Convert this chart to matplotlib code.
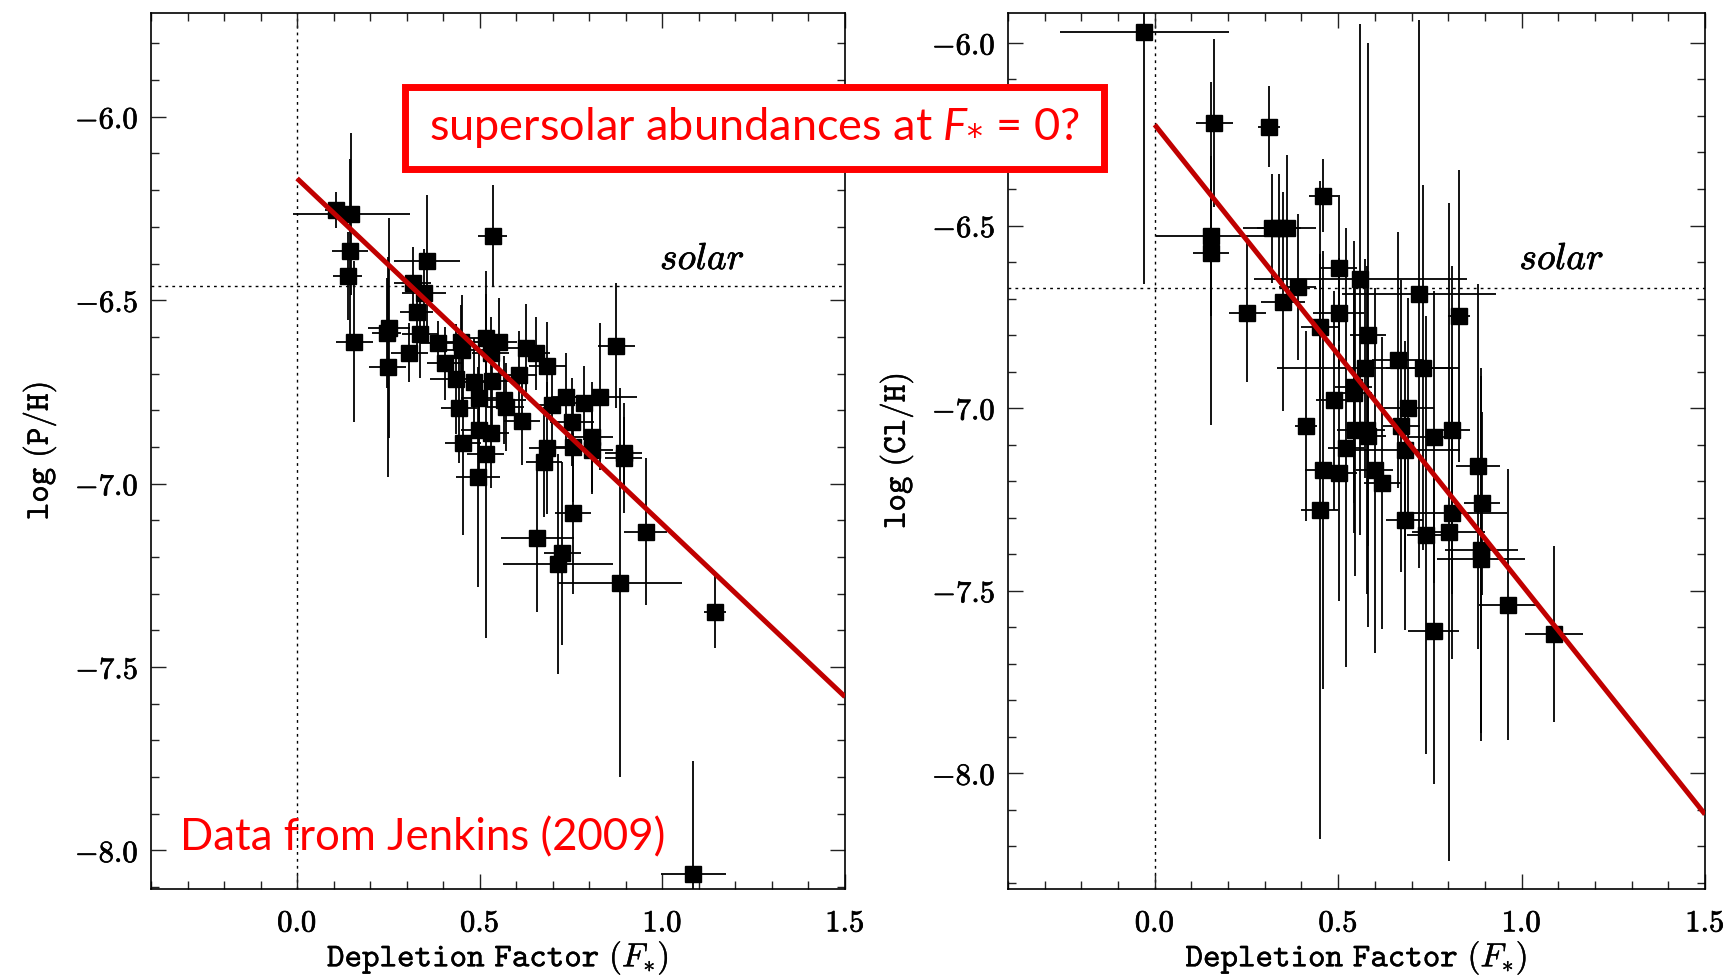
import matplotlib
matplotlib.use("Agg")
import matplotlib.pyplot as plt
from matplotlib.patches import Rectangle
from matplotlib.ticker import MultipleLocator, FuncFormatter
import matplotlib.patheffects as pe
import numpy as np

plt.rcParams['mathtext.fontset'] = 'cm'
plt.rcParams['mathtext.it'] = 'Lato:italic'

# ---------------- data ----------------
P_fstar = [0.106, 0.148, 0.145, 0.138, 0.157, 0.355, 0.536, 0.316, 0.348, 0.327,
           0.252, 0.245, 0.336, 0.307, 0.248, 0.387, 0.405, 0.434, 0.448, 0.452,
           0.443, 0.484, 0.516, 0.553, 0.530, 0.498, 0.566, 0.607, 0.626, 0.653,
           0.685, 0.735, 0.785, 0.830, 0.874, 0.571, 0.616, 0.698, 0.498, 0.530,
           0.454, 0.516, 0.496, 0.685, 0.676, 0.753, 0.755, 0.806, 0.806, 0.894,
           0.894, 0.755, 0.657, 0.726, 0.715, 0.883, 0.954, 1.145, 1.085, 0.534]
P_logH = [-6.254, -6.265, -6.365, -6.434, -6.613, -6.393, -6.325, -6.454, -6.481, -6.531,
          -6.576, -6.590, -6.592, -6.643, -6.681, -6.616, -6.672, -6.715, -6.613, -6.635,
          -6.793, -6.722, -6.604, -6.613, -6.645, -6.767, -6.772, -6.703, -6.631, -6.645,
          -6.680, -6.763, -6.780, -6.763, -6.624, -6.790, -6.830, -6.785, -6.854, -6.863,
          -6.890, -6.920, -6.981, -6.903, -6.940, -6.831, -6.899, -6.872, -6.908, -6.917,
          -6.931, -7.081, -7.149, -7.190, -7.219, -7.270, -7.131, -7.349, -8.065, -6.720]
P_xerr = [0.03, 0.16, 0.05, 0.04, 0.05, 0.09, 0.04, 0.05, 0.06, 0.045,
          0.057, 0.04, 0.05, 0.05, 0.05, 0.05, 0.05, 0.07, 0.05, 0.07,
          0.05, 0.05, 0.05, 0.05, 0.05, 0.05, 0.06, 0.05, 0.05, 0.04,
          0.05, 0.04, 0.05, 0.10, 0.05, 0.05, 0.05, 0.05, 0.05, 0.05,
          0.05, 0.05, 0.06, 0.05, 0.05, 0.06, 0.05, 0.06, 0.06, 0.05,
          0.05, 0.05, 0.10, 0.05, 0.15, 0.17, 0.06, 0.03, 0.09, 0.05]
P_yerr = [0.05, 0.22, 0.25, 0.12, 0.22, 0.18, 0.14, 0.10, 0.12, 0.10,
          0.30, 0.15, 0.12, 0.08, 0.30, 0.06, 0.10, 0.15, 0.10, 0.15,
          0.15, 0.12, 0.12, 0.12, 0.10, 0.15, 0.12, 0.12, 0.12, 0.10,
          0.12, 0.12, 0.10, 0.20, 0.17, 0.12, 0.12, 0.12, 0.15, 0.15,
          0.25, 0.50, 0.30, 0.18, 0.15, 0.12, 0.15, 0.15, 0.12, 0.10,
          0.15, 0.22, 0.20, 0.25, 0.30, 0.53, 0.20, 0.10, 0.31, 0.12]

Cl_fstar = [-0.028, 0.162, 0.311, 0.460, 0.153, 0.153, 0.319, 0.340, 0.360, 0.252,
            0.350, 0.390, 0.501, 0.560, 0.501, 0.450, 0.581, 0.573, 0.542, 0.542,
            0.490, 0.412, 0.546, 0.578, 0.581, 0.521, 0.460, 0.501, 0.600, 0.620,
            0.721, 0.830, 0.663, 0.730, 0.690, 0.672, 0.810, 0.760, 0.681, 0.880,
            0.450, 0.681, 0.739, 0.801, 0.810, 0.892, 0.890, 0.890, 0.760, 0.964,
            1.088]
Cl_logH = [-5.969, -6.218, -6.229, -6.419, -6.529, -6.576, -6.508, -6.508, -6.508, -6.739,
           -6.709, -6.669, -6.617, -6.647, -6.739, -6.779, -6.800, -6.891, -6.942, -6.960,
           -6.978, -7.049, -7.060, -7.060, -7.077, -7.108, -7.170, -7.177, -7.170, -7.206,
           -6.688, -6.747, -6.868, -6.889, -6.999, -7.049, -7.060, -7.079, -7.115, -7.159,
           -7.279, -7.307, -7.348, -7.339, -7.288, -7.261, -7.389, -7.412, -7.610, -7.538,
           -7.619]
Cl_xerr = [0.23, 0.05, 0.03, 0.04, 0.15, 0.05, 0.04, 0.10, 0.04, 0.05,
           0.06, 0.05, 0.05, 0.29, 0.07, 0.05, 0.05, 0.24, 0.05, 0.05,
           0.05, 0.03, 0.05, 0.05, 0.05, 0.05, 0.05, 0.05, 0.05, 0.05,
           0.21, 0.03, 0.07, 0.10, 0.07, 0.05, 0.05, 0.07, 0.15, 0.06,
           0.05, 0.05, 0.05, 0.10, 0.15, 0.05, 0.10, 0.12, 0.07, 0.08,
           0.08]
Cl_yerr = [0.69, 0.23, 0.11, 0.10, 0.22, 0.47, 0.15, 0.15, 0.20, 0.19,
           0.30, 0.20, 0.20, 0.70, 0.15, 0.20, 0.80, 0.30, 0.40, 0.30,
           0.30, 0.26, 0.40, 0.45, 0.30, 0.60, 0.60, 0.35, 0.50, 0.40,
           0.75, 0.40, 0.35, 0.50, 0.30, 0.40, 0.45, 0.40, 0.30, 0.50,
           0.90, 0.30, 0.60, 0.90, 0.40, 0.25, 0.50, 0.50, 0.42, 0.37,
           0.24]

# fit lines (intercept at F*=0, slope)
P_fit = (-6.168, -0.942)
Cl_fit = (-6.224, -1.259)
P_solar = -6.46
Cl_solar = -6.67

x_ticks = [0.0, 0.5, 1.0, 1.5]
P_yticks = [-6.0, -6.5, -7.0, -7.5, -8.0]
Cl_yticks = [-6.0, -6.5, -7.0, -7.5, -8.0]

# ---------------- figure ----------------
W, H = 1729, 980
fig = plt.figure(figsize=(W / 100, H / 100), dpi=100)

def axpos(x0, x1, y0, y1):
    return [x0 / W, 1 - y1 / H, (x1 - x0) / W, (y1 - y0) / H]

ax1 = fig.add_axes(axpos(151, 845, 13, 889))
ax2 = fig.add_axes(axpos(1008, 1705, 13, 889))

fmt = FuncFormatter(lambda v, p: r'$%.1f$' % v)
heavy = [pe.withStroke(linewidth=0.5, foreground='black')]
light = [pe.withStroke(linewidth=0.25, foreground='black')]

def style(ax, ylim, yticks, ylabel, xs, ys, xe, ye, fit, solar, solar_y):
    ax.set_xlim(-0.4, 1.5)
    ax.set_ylim(*ylim)
    ax.axvline(0.0, color='black', ls=(0, (2, 3)), lw=1.0, zorder=1)
    ax.axhline(solar, color='black', ls=(0, (2, 3)), lw=1.0, zorder=1)
    ax.errorbar(xs, ys, xerr=xe, yerr=ye, fmt='s', color='black', ms=11,
                ecolor='black', elinewidth=1.3, capsize=0, zorder=3)
    fx = np.array([0.0, 1.5])
    ax.plot(fx, fit[0] + fit[1] * fx, color='#C00000', lw=3.6, zorder=4,
            solid_capstyle='butt')
    ax.text(1.11, solar_y, r'$solar$', ha='center', va='center',
            fontsize=27, math_fontfamily='cm', path_effects=heavy)
    ax.set_xticks(x_ticks)
    ax.set_yticks(yticks)
    ax.xaxis.set_minor_locator(MultipleLocator(0.1))
    ax.yaxis.set_minor_locator(MultipleLocator(0.1))
    ax.xaxis.set_major_formatter(fmt)
    ax.yaxis.set_major_formatter(fmt)
    ax.tick_params(which='both', direction='in', top=True, right=True,
                   width=1.0, labelsize=22, color='#222222')
    ax.tick_params(which='major', length=11)
    ax.tick_params(which='minor', length=6)
    ax.tick_params(axis='x', which='major', pad=14)
    ax.tick_params(axis='y', which='major', pad=9)
    for lab in ax.get_xticklabels() + ax.get_yticklabels():
        lab.set_path_effects(heavy)
    for s in ax.spines.values():
        s.set_linewidth(1.2)
    ax.set_xlabel(r'$\mathtt{Depletion\ Factor\ (}\mathit{F}_{*}\mathtt{)}$', fontsize=24,
                  labelpad=1, math_fontfamily='cm', path_effects=light)
    ax.set_ylabel(ylabel, fontsize=24, labelpad=12, math_fontfamily='cm',
                  path_effects=light)

style(ax1, (-8.105, -5.717), P_yticks, r'$\mathtt{log\ (P/H)}$',
      P_fstar, P_logH, P_xerr, P_yerr, P_fit, P_solar, -6.388)
style(ax2, (-8.317, -5.918), Cl_yticks, r'$\mathtt{log\ (Cl/H)}$',
      Cl_fstar, Cl_logH, Cl_xerr, Cl_yerr, Cl_fit, Cl_solar, -6.592)

# annotation box
bx0, bx1, by0, by1 = 405, 1104, 87, 169
fig.patches.append(Rectangle((bx0 / W, 1 - by1 / H), (bx1 - bx0) / W, (by1 - by0) / H,
                             transform=fig.transFigure, facecolor='white',
                             edgecolor='#FF0000', lw=5, zorder=10))
fig.text((bx0 + bx1) / 2 / W, 1 - (by0 + by1) / 2 / H,
         r'supersolar abundances at $F_{*}$ = 0?', color='#FF0000',
         fontsize=32.5, family='Lato', ha='center', va='center', zorder=11,
         math_fontfamily='custom')

fig.text(180 / W, 1 - 838 / H, 'Data from Jenkins (2009)', color='#FF0000',
         fontsize=31.5, family='Lato', ha='left', va='center', zorder=11)

fig.savefig('out.png', dpi=100, facecolor='white')
